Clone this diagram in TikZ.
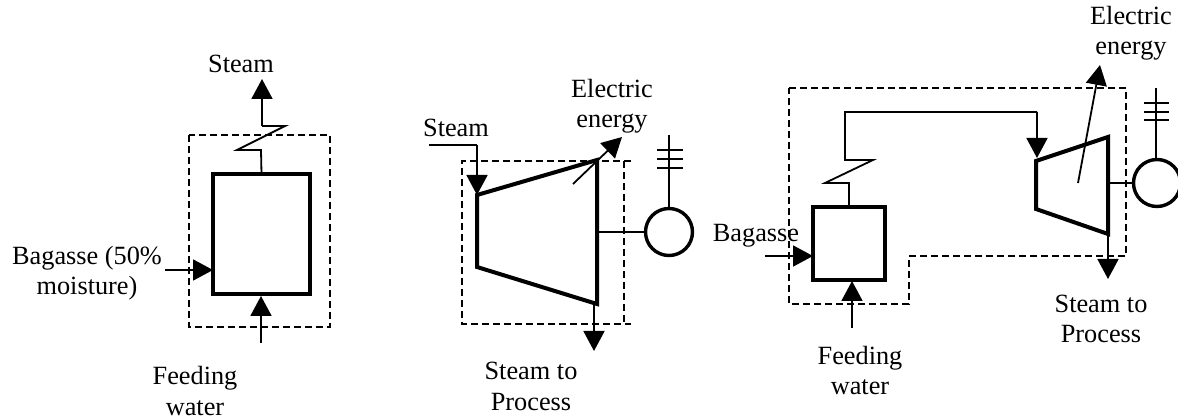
\documentclass[tikz,border=0pt]{standalone}
\usepackage{fontspec}
\setmainfont{Liberation Serif}
\usetikzlibrary{arrows.meta}
\tikzset{
  flow/.style={line width=1.8pt,-{Triangle[length=20pt,width=21pt]},shorten >=0pt},
  thin line/.style={line width=1.8pt},
  envelope/.style={line width=1.7pt,dash pattern=on 7pt off 4pt},
  heavy/.style={line width=4pt,line join=miter},
  boiler/.style={draw,line width=4pt,minimum width=#1,outer sep=0pt,inner sep=0pt},
  gen/.style={draw,circle,line width=3.4pt,minimum size=47pt,inner sep=0pt,outer sep=0pt},
  lbl/.style={font=\fontsize{26.3}{30.5}\selectfont,align=center,inner sep=0pt,anchor=base},
}
\begin{document}
\begin{tikzpicture}[x=1pt,y=-1pt]
\useasboundingbox (0,0) rectangle (1178,419);
% ---------- Left: boiler
\draw[envelope] (189,135) rectangle (330,327);
\node[boiler=97pt,minimum height=120pt] (b1) at (261.5,234) {};
\coordinate (b1z1) at (261,150);
\coordinate (b1z2) at (237,150);
\coordinate (b1z3) at (285,126);
\coordinate (b1z4) at (262,126);
\coordinate (b1out) at (262,79);
\coordinate (b1in) at (165,270);
\coordinate (b1w) at (261,343);
\coordinate (b1wt) at (261,296);
\coordinate (b1it) at (213,270);
\draw[thin line] (b1.north) -- (b1z1) -- (b1z2) -- (b1z3) -- (b1z4);
\draw[flow] (b1z4) -- (b1out);
\draw[flow] (b1in) -- (b1it);
\draw[flow] (b1w) -- (b1wt);
\node[lbl] (t1) at (241,73) {Steam};
\node[lbl] (t2) at (87,295) {Bagasse (50\%\\moisture)};
\node[lbl] (t3) at (195,415) {Feeding\\water};
% ---------- Middle: turbine
\draw[envelope] (631,161) -- (462,161) -- (462,324) -- (631,324);
\draw[envelope] (624,161) -- (624,324);
\coordinate (m1) at (477,195);
\coordinate (m2) at (597,160);
\coordinate (m3) at (597,304);
\coordinate (m4) at (477,267);
\draw[heavy] (m1) -- (m2) -- (m3) -- (m4) -- cycle;
\coordinate (ms) at (429,145);
\coordinate (mc) at (477,145);
\coordinate (mea) at (573,184);
\coordinate (meb) at (622,137);
\coordinate (mo) at (594,351);
\coordinate (mot) at (594,304);
\coordinate (msh) at (597,232);
\node[gen] (g2) at (669,232) {};
\coordinate (g2t) at (669,135);
\coordinate (g2a) at (657,150); \coordinate (g2b) at (683,150);
\coordinate (g2c) at (657,159); \coordinate (g2d) at (683,159);
\coordinate (g2e) at (657,168); \coordinate (g2f) at (683,168);
\draw[thin line] (ms) -- (mc);
\draw[flow] (mc) -- (m1);
\draw[flow] (mea) -- (meb);
\draw[flow] (mot) -- (mo);
\draw[thin line] (msh) -- (g2);
\draw[thin line] (g2) -- (g2t);
\draw[thin line] (g2a) -- (g2b) (g2c) -- (g2d) (g2e) -- (g2f);
\node[lbl] (t4) at (456,137) {Steam};
\node[lbl] (t5) at (612,128) {Electric\\energy};
\node[lbl] (t6) at (531,410) {Steam to\\Process};
% ---------- Right: cogeneration
\draw[envelope] (789,88) -- (1126,88) -- (1126,256) -- (909,256) -- (909,304) -- (789,304) -- cycle;
\node[boiler=72pt,minimum height=73pt] (b3) at (849,243.5) {};
\coordinate (r1) at (849,183);
\coordinate (r2) at (825,183);
\coordinate (r3) at (873,160);
\coordinate (r4) at (845,160);
\coordinate (r5) at (845,112);
\coordinate (r6) at (1037,112);
\coordinate (r7) at (1037,158);
\coordinate (t1a) at (1036,161);
\coordinate (t1b) at (1108,137);
\coordinate (t1c) at (1108,234);
\coordinate (t1d) at (1036,209);
\coordinate (rea) at (1078,183);
\coordinate (reb) at (1100,65);
\coordinate (rin) at (765,256);
\coordinate (rit) at (813,256);
\coordinate (rw) at (852,328);
\coordinate (rwt) at (852,281);
\coordinate (ro) at (1108,279);
\coordinate (rsh) at (1108,183);
\node[gen] (g3) at (1157,183) {};
\coordinate (g3t) at (1156,88);
\coordinate (g3a) at (1144,103); \coordinate (g3b) at (1169,103);
\coordinate (g3c) at (1144,112); \coordinate (g3d) at (1169,112);
\coordinate (g3e) at (1144,120); \coordinate (g3f) at (1169,120);
\draw[heavy] (t1a) -- (t1b) -- (t1c) -- (t1d) -- cycle;
\draw[thin line] (b3.north -| r1) -- (r1) -- (r2) -- (r3) -- (r4) -- (r5) -- (r6);
\draw[flow] (r6) -- (r7);
\draw[flow] (rea) -- (reb);
\draw[flow] (rin) -- (rit);
\draw[flow] (rw) -- (rwt);
\draw[flow] (t1c) -- (ro);
\draw[thin line] (rsh) -- (g3);
\draw[thin line] (g3t) -- (g3t |- g3.north);
\draw[thin line] (g3a) -- (g3b) (g3c) -- (g3d) (g3e) -- (g3f);
\node[lbl] (t7) at (756,242) {Bagasse};
\node[lbl] (t8) at (860,395) {Feeding\\water};
\node[lbl] (t9) at (1101,343) {Steam to\\Process};
\node[lbl] (t10) at (1131,55) {Electric\\energy};
\end{tikzpicture}
\end{document}
